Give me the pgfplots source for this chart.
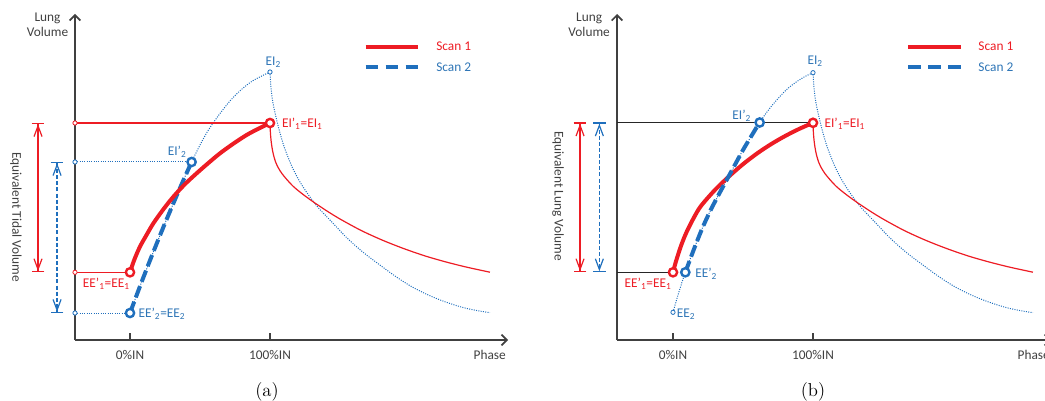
\documentclass[border=0pt]{standalone}
\usepackage{fontspec}
\usepackage{pgfplots}
\pgfplotsset{compat=1.18}
\usetikzlibrary{arrows.meta}
\newfontfamily\carlito{Carlito}
\definecolor{sred}{RGB}{237,28,36}
\definecolor{sblue}{RGB}{31,111,189}
\definecolor{tblue}{RGB}{46,117,182}
\definecolor{axgray}{RGB}{64,64,64}
\newcommand\lf{\carlito\fontsize{10}{11.25}\selectfont}
\tikzset{lbl/.style={font=\lf, inner sep=0pt}}
\pgfplotsset{
  panel/.style={
    x=1.05pt, y=0.75pt, xmax=270, ymin=0, ymax=326,
    enlargelimits=false, clip=false,
    axis lines=left,
    axis line style={line width=1.5pt, draw=axgray, -{Straight Barb[length=4pt,width=8pt,line width=1.2pt]}},
    xtick={0,100}, xticklabels={0\%IN,100\%IN}, ytick=\empty,
    tick align=inside, major tick length=5pt,
    xtick style={line width=1.1pt, draw=axgray},
    xticklabel style={font=\lf, text=axgray, anchor=base, yshift=-14.5pt, inner sep=0pt},
    anchor=south west,
  },
  bigR/.style={only marks, mark=*, mark size=3.1pt, mark options={draw=sred, fill=white, line width=1.8pt}},
  bigB/.style={only marks, mark=*, mark size=3.1pt, mark options={draw=sblue, fill=white, line width=1.8pt}},
  smallR/.style={only marks, mark=*, mark size=1.6pt, mark options={draw=sred, fill=white, line width=0.6pt}},
  smallB/.style={only marks, mark=*, mark size=1.6pt, mark options={draw=sblue, fill=white, line width=0.6pt}},
  dotB/.style={sblue, line width=0.75pt, densely dotted},
  dimarr/.style={line width=0.9pt, {Bar[width=9.5pt]Straight Barb[length=8pt,width=6pt]}-{Straight Barb[length=8pt,width=6pt]Bar[width=9.5pt]}},
}
% decay (expiration) curves
\pgfplotstableread{
x y
100 217
100.3 207
100.8 199
101.5 192
102.5 185
104 178
106 172
108.5 166.5
112 160.5
116.7 153.5
122 147.3
130 139
140 129.6
150 121
165 109.6
180 100
195 91.7
210 84.4
225 78.3
240 73
257.1 67.8
}\redDecay
\pgfplotstableread{
x y
100 268
100.4 258
101 248
102 238
103.6 227
106 213
109 198
112 186
116 172.5
121.4 158
128 144
135 131.5
145.2 116.5
155 102
166.7 87.5
178 75.5
190.5 62.8
202 52.7
214.3 44.2
226 37.7
238.1 32.4
248 29.4
257.1 27.3
}\blueDecay
\begin{document}
\begin{tikzpicture}
% ---------------- panel (a) ----------------
\begin{axis}[panel, xmin=-39.2857, at={(56.25pt,45pt)}]
\addplot[dotB, smooth] coordinates {(0,27)(8,56.9)(16,85.7)(24,113.4)(32,140)(38,159.3)(44,178)(50,195)(56,210)(64,226)(72,240)(80,251)(88,259.5)(100,268)};
\addplot[dotB, smooth] table[x=x,y=y] {\blueDecay};
\addplot[sred, line width=0.9pt, smooth] table[x=x,y=y] {\redDecay};
\addplot[sred, line width=0.8pt] coordinates {(-39.2857,217)(100,217)};
\addplot[sred, line width=0.8pt] coordinates {(-39.2857,67.7)(0,67.7)};
\addplot[dotB] coordinates {(-39.2857,178)(44,178)};
\addplot[dotB] coordinates {(-39.2857,27)(0,27)};
\addplot[sblue, line width=3pt, dash pattern=on 9pt off 3.5pt, smooth] coordinates {(0,27)(8,56.9)(16,85.7)(24,113.4)(32,140)(38,159.3)(44,178)};
\addplot[sred, line width=3pt, smooth] coordinates {(0,67.7)(3,80)(7.1,93.3)(12,105.5)(16.7,116.7)(24,131)(31,143.3)(39,155.5)(47.6,166.7)(56,177)(64.3,186.7)(74,196.5)(83.3,205)(92,211.5)(100,217)};
\addplot[bigR] coordinates {(0,67.7)(100,217)};
\addplot[bigB] coordinates {(0,27)(44,178)};
\addplot[smallB] coordinates {(100,268)(-39.2857,178)(-39.2857,27)};
\addplot[smallR] coordinates {(-39.2857,217)(-39.2857,67.7)};
\addplot[sred, dimarr] coordinates {(-65.7,217)(-65.7,67.7)};
\addplot[sblue, dimarr, dash pattern=on 3pt off 1.6pt] coordinates {(-52.1,178)(-52.1,27)};
% legend
\addplot[sred, line width=3pt] coordinates {(168.3,293.3)(205.7,293.3)};
\addplot[sblue, line width=3pt, dash pattern=on 9.2pt off 5.8pt] coordinates {(168.3,272.7)(205.7,272.7)};
\node[lbl, anchor=base west, text=sred] at (218.6,289) {Scan 1};
\node[lbl, anchor=base west, text=tblue] at (218.6,268.4) {Scan 2};
% texts
\node[lbl, align=center, text=axgray] at (-58.9,315) {Lung\\Volume};
\node[lbl, anchor=base east, text=axgray] at (268.6,-19.3) {Phase};
\node[lbl, rotate=-90, text=axgray] at (-81.4,122.8) {Equivalent Tidal Volume};
\node[lbl, anchor=base, text=tblue] at (102.4,274.7) {EI\textsubscript{2}};
\node[lbl, anchor=base west, text=sred] at (108.4,212.4) {EI’\textsubscript{1}=EI\textsubscript{1}};
\node[lbl, anchor=base east, text=tblue] at (40.5,184.7) {EI’\textsubscript{2}};
\node[lbl, anchor=base east, text=sred] at (0,52.4) {EE’\textsubscript{1}=EE\textsubscript{1}};
\node[lbl, anchor=base west, text=tblue] at (5.9,22.4) {EE’\textsubscript{2}=EE\textsubscript{2}};
\node[anchor=base, inner sep=0pt, font=\fontsize{14}{16}\selectfont] at (97.9,-56.7) {(a)};
\end{axis}
% ---------------- panel (b) ----------------
\begin{axis}[panel, xmin=-40, at={(462.75pt,45pt)}]
\addplot[dotB, smooth] coordinates {(0,27.7)(4,47)(8.8,67.7)(15,91)(21.4,113.3)(28,133)(35.7,153.3)(43,172)(50,190)(56,204)(61.9,217.7)(69,231.5)(76.2,243.3)(82,251.5)(88,258)(94,263.3)(100,267.3)};
\addplot[dotB, smooth] table[x=x,y=y] {\blueDecay};
\addplot[sred, line width=0.9pt, smooth] table[x=x,y=y] {\redDecay};
\addplot[black!85, line width=0.8pt] coordinates {(-40,217.5)(100,217.5)};
\addplot[black!85, line width=0.8pt] coordinates {(-40,67.7)(0,67.7)};
\addplot[sred, line width=3pt, smooth] coordinates {(0,67.7)(2,78.1)(5,91.3)(7.1,99.3)(10,108.9)(15,122.6)(20,134.1)(30,150.1)(40,163.6)(50,175.8)(60,186.5)(70,195.8)(80,203.9)(90,211)(100,217.2)};
\addplot[sblue, line width=3pt, dash pattern=on 9pt off 3.5pt, smooth] coordinates {(8.8,67.7)(15,91)(21.4,113.3)(28,133)(35.7,153.3)(43,172)(50,190)(56,204)(61.9,217.7)};
\addplot[bigR] coordinates {(0,67.7)(100,217.2)};
\addplot[bigB] coordinates {(8.8,67.7)(61.9,217.5)};
\addplot[smallB] coordinates {(0,27.7)(100,267.3)};
\addplot[sred, dimarr] coordinates {(-66.4,217.5)(-66.4,67.7)};
\addplot[sblue, dimarr, dash pattern=on 3pt off 1.6pt] coordinates {(-52.6,217.5)(-52.6,67.7)};
% legend
\addplot[sred, line width=3pt] coordinates {(168.1,293.3)(205.5,293.3)};
\addplot[sblue, line width=3pt, dash pattern=on 9.2pt off 5.8pt] coordinates {(168.1,272.7)(205.5,272.7)};
\node[lbl, anchor=base west, text=sred] at (218,289) {Scan 1};
\node[lbl, anchor=base west, text=tblue] at (218,268.4) {Scan 2};
% texts
\node[lbl, align=center, text=axgray] at (-59.9,315) {Lung\\Volume};
\node[lbl, anchor=base east, text=axgray] at (269.3,-19.3) {Phase};
\node[lbl, rotate=-90, text=axgray] at (-82.1,143.8) {Equivalent Lung Volume};
\node[lbl, anchor=base, text=tblue] at (101.6,275.7) {EI\textsubscript{2}};
\node[lbl, anchor=base west, text=sred] at (108.1,212.4) {EI’\textsubscript{1}=EI\textsubscript{1}};
\node[lbl, anchor=base east, text=tblue] at (55.9,220.7) {EI’\textsubscript{2}};
\node[lbl, anchor=base east, text=sred] at (-0.9,52.4) {EE’\textsubscript{1}=EE\textsubscript{1}};
\node[lbl, anchor=base west, text=tblue] at (15.7,63) {EE’\textsubscript{2}};
\node[lbl, anchor=base west, text=tblue] at (2.6,22.4) {EE\textsubscript{2}};
\node[anchor=base, inner sep=0pt, font=\fontsize{14}{16}\selectfont] at (100,-56.7) {(b)};
\end{axis}
\pgfresetboundingbox
\path (0,0) rectangle (783.75pt,300pt);
\end{tikzpicture}
\end{document}
